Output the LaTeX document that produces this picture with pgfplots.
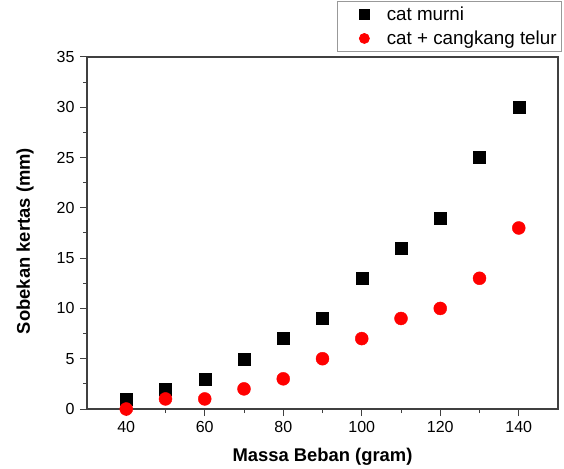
\documentclass[border=0pt]{standalone}
\usepackage{fontspec}
\setmainfont{Liberation Sans}
\usepackage{pgfplots}
\pgfplotsset{compat=1.18}

\begin{document}
\fontsize{16}{19}\selectfont
\begin{tikzpicture}[x=1pt,y=1pt]
\useasboundingbox (0,0) rectangle (564,468);
\begin{axis}[
    at={(87pt,59pt)},
    anchor=south west,
    scale only axis,
    width=471pt,
    height=352pt,
    xmin=30, xmax=150,
    ymin=0, ymax=35,
    xtick={40,60,...,140},
    minor xtick={50,70,...,130},
    ytick={0,5,...,35},
    minor ytick={2.5,7.5,...,32.5},
    tick align=outside,
    xtick pos=bottom,
    ytick pos=left,
    major tick length=7pt,
    minor tick length=4pt,
    axis line style={black!75,line width=1.2pt},
    every tick/.style={black!75,line width=1pt},
    tick label style={font=\fontsize{16}{19}\selectfont},
    /pgf/number format/assume math mode=true,
    xlabel={\textbf{Massa Beban (gram)}},
    ylabel={\textbf{Sobekan kertas (mm)}},
    label style={font=\fontsize{18.4}{21}\selectfont},
    xlabel style={yshift=-4pt},
    ylabel style={yshift=12pt,xshift=-8pt},
    legend style={
        at={(axis description cs:1.0085,1.159)},
        anchor=north east,
        draw=black!40,
        line width=0.8pt,
        font=\fontsize{18.8}{22}\selectfont,
        inner xsep=3pt, inner ysep=3pt,
        row sep=4pt,
        legend cell align=left,
    },
    legend image code/.code={\path (0pt,0pt) (44pt,0pt); \draw[#1] plot coordinates {(24pt,0pt)};},
    legend image post style={mark size=5pt},
]
\addplot[only marks, mark=square*, mark size=6pt, black] coordinates {
    (40,1) (50,2) (60,3) (70,5) (80,7) (90,9) (100,13) (110,16) (120,19) (130,25) (140,30)
};
\addlegendentry{cat murni}
\addplot[only marks, mark=*, mark size=6.5pt, draw=none, fill=red, mark options={draw=red,fill=red}] coordinates {
    (40,0) (50,1) (60,1) (70,2) (80,3) (90,5) (100,7) (110,9) (120,10) (130,13) (140,18)
};
\addlegendentry{cat + cangkang telur}
\end{axis}
\end{tikzpicture}
\end{document}
